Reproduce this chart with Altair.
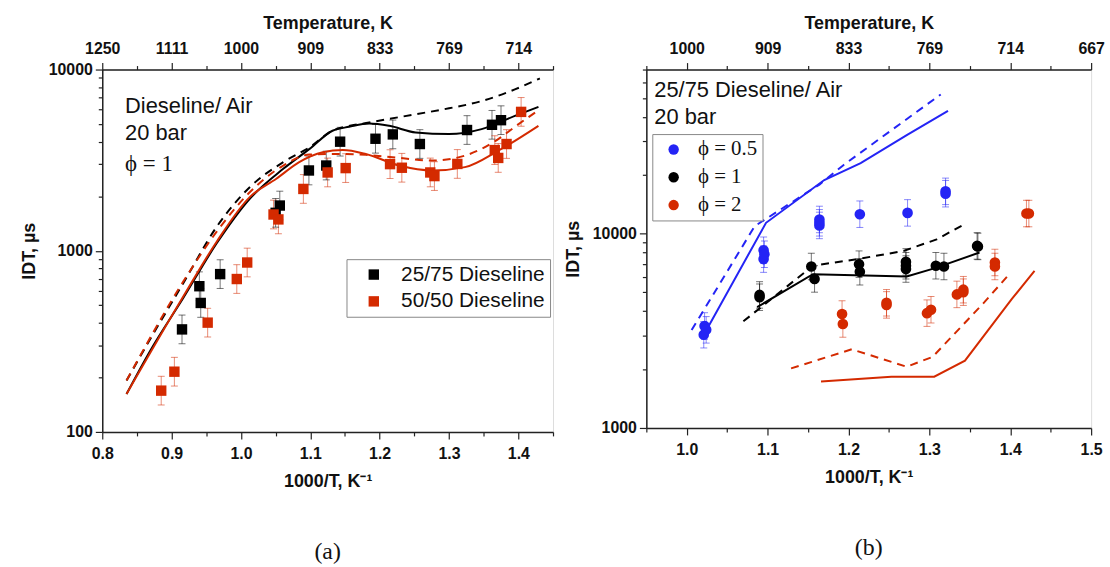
import altair as alt
import pandas as pd
import numpy as np

SANS = "Liberation Sans, Arial, Helvetica, sans-serif"
SERIF = "Liberation Serif, Times New Roman, DejaVu Serif, serif"
BLACK = "#000000"
RED = "#d42a00"
BLUE = "#2424f5"

# ---------------- panel (a) : IDT vs 1000/T, phi = 1 ----------------
a_series = ["25/75 Dieseline", "50/50 Dieseline"]
a_colors = [BLACK, RED]

a25_x = [0.915, 0.940, 0.942, 0.970, 1.050, 1.056, 1.098, 1.123, 1.143, 1.194, 1.219, 1.258, 1.326, 1.362, 1.375]
a25_y = [368, 637, 515, 743, 1619, 1776, 2773, 2953, 3998, 4150, 4386, 3881, 4637, 4955, 5254]

a50_x = [0.885, 0.904, 0.952, 0.994, 1.009, 1.047, 1.054, 1.090, 1.125, 1.151, 1.215, 1.232,
         1.273, 1.279, 1.312, 1.366, 1.371, 1.383, 1.404]
a50_y = [169, 215, 401, 698, 861, 1585, 1489, 2193, 2704, 2858, 3006, 2871,
         2704, 2582, 3013, 3593, 3252, 3881, 5838]

a25_sim_solid_x = [0.835, 0.869, 0.917, 0.965, 1.013, 1.061, 1.099, 1.132, 1.156, 1.185, 1.214, 1.252, 1.300, 1.347, 1.395, 1.429]
a25_sim_solid_y = [162, 280, 550, 1099, 1941, 2832, 3648, 4594, 4830, 5039, 4890, 4497, 4406, 4689, 5545, 6220]
a25_sim_dash_x = [0.835, 0.869, 0.917, 0.965, 1.013, 1.061, 1.099, 1.132, 1.185, 1.252, 1.300, 1.347, 1.395, 1.431]
a25_sim_dash_y = [192, 325, 664, 1356, 2249, 3083, 3727, 4594, 5100, 5664, 6111, 6696, 7768, 8932]
a50_sim_solid_x = [0.835, 0.917, 0.965, 1.013, 1.051, 1.084, 1.118, 1.147, 1.180, 1.228, 1.276, 1.323, 1.371, 1.429]
a50_sim_solid_y = [162, 560, 1122, 1982, 2495, 3083, 3494, 3596, 3420, 2952, 2773, 2893, 3565, 4890]
a50_sim_dash_x = [0.835, 0.917, 0.965, 1.013, 1.061, 1.099, 1.132, 1.180, 1.228, 1.276, 1.323, 1.371, 1.395, 1.429]
a50_sim_dash_y = [192, 678, 1274, 2109, 2952, 3397, 3422, 3381, 3253, 3146, 3350, 4131, 4830, 5957]

a_err = 0.20  # relative measurement uncertainty

a_x_ticks = [0.8, 0.85, 0.9, 0.95, 1.0, 1.05, 1.1, 1.15, 1.2, 1.25, 1.3, 1.35, 1.4, 1.45]
a_y_ticks = [100, 200, 300, 400, 500, 600, 700, 800, 900,
             1000, 2000, 3000, 4000, 5000, 6000, 7000, 8000, 9000, 10000]
a_text = ["Dieseline/ Air", "20 bar"]
a_phi = "ϕ = 1"

# ---------------- panel (b) : 25/75 Dieseline, three phi ----------------
b_series = ["ϕ = 0.5", "ϕ = 1", "ϕ = 2"]
b_colors = [BLUE, BLACK, RED]

b05_x = [1.021, 1.022, 1.024, 1.095, 1.095, 1.096, 1.164, 1.164, 1.164, 1.214, 1.273, 1.320, 1.320]
b05_y = [3020, 3350, 3200, 8220, 7400, 7840, 11840, 11030, 11380, 12600, 12800, 16070, 16520]
b1_x = [1.090, 1.090, 1.154, 1.158, 1.213, 1.214, 1.271, 1.271, 1.271, 1.308, 1.318, 1.359, 1.360]
b1_y = [4710, 4840, 6780, 5850, 6970, 6370, 7160, 6580, 6840, 6840, 6780, 8650, 8600]
b2_x = [1.192, 1.193, 1.247, 1.247, 1.297, 1.302, 1.334, 1.342, 1.342, 1.381, 1.381, 1.420, 1.423]
b2_y = [3860, 3430, 4300, 4410, 3900, 4060, 4870, 5150, 5000, 7110, 6780, 12700, 12700]

b05_sim_solid_x = [1.023, 1.098, 1.170, 1.215, 1.272, 1.323]
b05_sim_solid_y = [3120, 11380, 18900, 23060, 32200, 42860]
b05_sim_dash_x = [1.006, 1.084, 1.164, 1.194, 1.314]
b05_sim_dash_y = [3190, 10940, 17900, 22600, 52100]
b1_sim_solid_x = [1.087, 1.156, 1.272, 1.307, 1.362]
b1_sim_solid_y = [4190, 6190, 6030, 6650, 8000]
b1_sim_dash_x = [1.070, 1.156, 1.211, 1.268, 1.309, 1.345]
b1_sim_dash_y = [3540, 6840, 7400, 8150, 9350, 11290]
b2_sim_solid_x = [1.166, 1.253, 1.306, 1.344, 1.402, 1.430]
b2_sim_solid_y = [1734, 1836, 1836, 2219, 4617, 6440]
b2_sim_dash_x = [1.129, 1.204, 1.272, 1.304, 1.368, 1.396]
b2_sim_dash_y = [2026, 2541, 2066, 2323, 4440, 6010]

b_err = 0.17

b_x_ticks = [0.95, 1.0, 1.05, 1.1, 1.15, 1.2, 1.25, 1.3, 1.35, 1.4, 1.45, 1.5]
b_y_ticks = [1000, 2000, 3000, 4000, 5000, 6000, 7000, 8000, 9000,
             10000, 20000, 30000, 40000, 50000, 60000, 70000]
b_text = ["25/75 Dieseline/ Air", "20 bar"]


def points_frame(pairs, err):
    rows = []
    for name, xs, ys in pairs:
        for xv, yv in zip(xs, ys):
            rows.append({"x": xv, "y": yv, "series": name,
                         "lo": yv / (1 + err), "hi": yv * (1 + err)})
    return pd.DataFrame(rows)


def lines_frame(pairs):
    rows = []
    for name, xs, ys in pairs:
        for i, (xv, yv) in enumerate(zip(xs, ys)):
            rows.append({"x": xv, "y": yv, "series": name, "order": i})
    return pd.DataFrame(rows)


X_MAJOR = "abs(datum.value*10 - round(datum.value*10)) < 0.01"
Y_MAJOR = "abs(log(datum.value)/LN10 - round(log(datum.value)/LN10)) < 0.001"

AXIS_STYLE = dict(
    labelFont=SANS, labelFontSize=16, labelFontWeight="bold", labelColor="#111",
    titleFont=SANS, titleFontSize=18, titleFontWeight="bold", titleColor="#111",
    domainColor="#222", domainWidth=1.5, tickColor="#222", tickWidth=1.2,
    grid=False, labelOverlap=False, labelFlush=False, labelBound=False,
)


def x_bottom(values):
    return alt.Axis(orient="bottom", values=values, title="1000/T, K⁻¹",
                    labelExpr=f"{X_MAJOR} ? format(datum.value, '.1f') : ''",
                    tickSize={"condition": {"test": X_MAJOR, "value": 7}, "value": 4},
                    labelPadding=7, titlePadding=11, **AXIS_STYLE)


def x_top(values):
    return alt.Axis(orient="top", values=values, title="Temperature, K",
                    labelExpr=f"{X_MAJOR} ? format(1000/datum.value, '.0f') : ''",
                    tickSize={"condition": {"test": X_MAJOR, "value": 7}, "value": 4},
                    labelPadding=6, titlePadding=8, **AXIS_STYLE)


def y_left(values):
    return alt.Axis(orient="left", values=values, title="IDT, µs",
                    labelExpr=f"{Y_MAJOR} ? format(datum.value, 'd') : ''",
                    tickSize={"condition": {"test": Y_MAJOR, "value": 7}, "value": 4},
                    labelPadding=3, titlePadding=10, **AXIS_STYLE)


def panel(pts, sim_solid, sim_dash, xdom, ydom, xticks, yticks, series, colors,
          marker, legend, texts, phi_text, caption, width, height):
    xs = alt.Scale(domain=xdom, zero=False, nice=False)
    ys = alt.Scale(type="log", domain=ydom, nice=False)
    cscale = alt.Scale(domain=series, range=colors)
    col_nolegend = alt.Color("series:N", scale=cscale, legend=None)

    base = alt.Chart(pts)
    err = base.mark_rule(strokeWidth=1, opacity=0.55).encode(
        x=alt.X("x:Q", scale=xs, axis=None),
        y=alt.Y("lo:Q", scale=ys, axis=None), y2="hi:Q", color=col_nolegend)
    cap_lo = base.mark_tick(orient="horizontal", size=7, thickness=1, opacity=0.55).encode(
        x=alt.X("x:Q", scale=xs, axis=None), y=alt.Y("lo:Q", scale=ys, axis=None),
        color=col_nolegend)
    cap_hi = base.mark_tick(orient="horizontal", size=7, thickness=1, opacity=0.55).encode(
        x=alt.X("x:Q", scale=xs, axis=None), y=alt.Y("hi:Q", scale=ys, axis=None),
        color=col_nolegend)

    solid = alt.Chart(sim_solid).mark_line(strokeWidth=2, interpolate=marker["interp"]).encode(
        x=alt.X("x:Q", scale=xs, axis=None), y=alt.Y("y:Q", scale=ys, axis=None),
        color=col_nolegend, detail="series:N", order="order:Q")
    dash = alt.Chart(sim_dash).mark_line(strokeWidth=2, strokeDash=[8, 6],
                                          interpolate=marker["interp"]).encode(
        x=alt.X("x:Q", scale=xs, axis=x_top(xticks)), y=alt.Y("y:Q", scale=ys, axis=None),
        color=col_nolegend, detail="series:N", order="order:Q")

    if marker["shape"] == "square":
        pm = base.mark_square(size=110, opacity=1)
    else:
        pm = base.mark_circle(size=115, opacity=1)
    points = pm.encode(
        x=alt.X("x:Q", scale=xs, axis=x_bottom(xticks)),
        y=alt.Y("y:Q", scale=ys, axis=y_left(yticks)),
        color=alt.Color("series:N", scale=cscale, legend=legend))

    layers = [err, cap_lo, cap_hi, solid, dash, points]
    for i, (t, yy) in enumerate(texts):
        layers.append(alt.Chart(pd.DataFrame({"label": [t]})).mark_text(
            align="left", baseline="middle", font=SANS, fontSize=22, color="#111").encode(
            text="label:N", x=alt.value(marker["tx"]), y=alt.value(yy)))
    if phi_text:
        layers.append(alt.Chart(pd.DataFrame({"label": [phi_text[0]]})).mark_text(
            align="left", baseline="middle", font=SERIF, fontSize=23, color="#111").encode(
            text="label:N", x=alt.value(marker["tx"]), y=alt.value(phi_text[1])))

    return alt.layer(*layers).resolve_axis(x="independent", y="independent").resolve_legend(
        color="independent").properties(
        width=width, height=height,
        title=alt.TitleParams(caption, orient="bottom", font=SERIF, fontSize=24,
                              fontWeight="normal", color="#111", offset=50))


ptsA = points_frame([(a_series[0], a25_x, a25_y), (a_series[1], a50_x, a50_y)], a_err)
solidA = lines_frame([(a_series[0], a25_sim_solid_x, a25_sim_solid_y),
                      (a_series[1], a50_sim_solid_x, a50_sim_solid_y)])
dashA = lines_frame([(a_series[0], a25_sim_dash_x, a25_sim_dash_y),
                     (a_series[1], a50_sim_dash_x, a50_sim_dash_y)])

ptsB = points_frame([(b_series[0], b05_x, b05_y), (b_series[1], b1_x, b1_y),
                     (b_series[2], b2_x, b2_y)], b_err)
solidB = lines_frame([(b_series[0], b05_sim_solid_x, b05_sim_solid_y),
                      (b_series[1], b1_sim_solid_x, b1_sim_solid_y),
                      (b_series[2], b2_sim_solid_x, b2_sim_solid_y)])
dashB = lines_frame([(b_series[0], b05_sim_dash_x, b05_sim_dash_y),
                     (b_series[1], b1_sim_dash_x, b1_sim_dash_y),
                     (b_series[2], b2_sim_dash_x, b2_sim_dash_y)])

legendA = alt.Legend(orient="none", legendX=246, legendY=191, title=None,
                     labelFont=SANS, labelFontSize=21, labelColor="#111",
                     symbolSize=110, symbolType="square", symbolStrokeWidth=0,
                     strokeColor="#888", fillColor="white", padding=5,
                     rowPadding=5, labelOffset=17, symbolOffset=12, cornerRadius=0)
legendB = alt.Legend(orient="none", legendX=6, legendY=65, title=None,
                     labelFont=SERIF, labelFontSize=21, labelColor="#111",
                     symbolSize=110, symbolType="circle", symbolStrokeWidth=0,
                     strokeColor="#888", fillColor="white", padding=5,
                     rowPadding=6, labelOffset=14, symbolOffset=6, cornerRadius=0)

panelA = panel(ptsA, solidA, dashA, [0.8, 1.45], [100, 10000], a_x_ticks, a_y_ticks,
               a_series, a_colors, {"shape": "square", "interp": "monotone", "tx": 23},
               legendA, [(a_text[0], 37), (a_text[1], 64)], (a_phi, 95), "(a)", 454, 365)
panelB = panel(ptsB, solidB, dashB, [0.95, 1.5], [1000, 70000], b_x_ticks, b_y_ticks,
               b_series, b_colors, {"shape": "circle", "interp": "linear", "tx": 8},
               legendB, [(b_text[0], 21), (b_text[1], 48)], None, "(b)", 448, 361)

chart = alt.hconcat(panelA, panelB, spacing=9).resolve_scale(
    color="independent").resolve_legend(color="independent").properties(
    padding={"left": 20, "top": 12, "right": 5, "bottom": 0}
).configure_view(stroke="#222", strokeWidth=1.5).configure(background="white")

chart.save("out.html", embed_options={"renderer": "svg", "actions": False})
